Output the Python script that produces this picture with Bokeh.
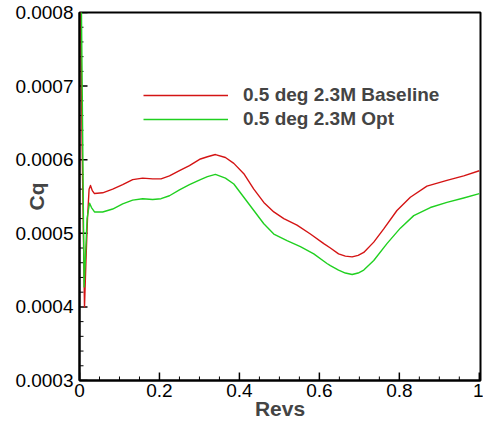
import math
from bokeh.plotting import figure
from bokeh.models import FixedTicker, Legend, LegendItem, Range1d, PrintfTickFormatter
from bokeh.embed import file_html
from bokeh.resources import INLINE

# ---- data ----
red_x = [0.002, 0.0065, 0.0125, 0.016, 0.02, 0.024, 0.0275, 0.032, 0.0375, 0.058, 0.083, 0.108,
         0.133, 0.158, 0.183, 0.204, 0.225, 0.25, 0.275, 0.3025, 0.32, 0.34, 0.365, 0.386, 0.411,
         0.436, 0.461, 0.486, 0.511, 0.544, 0.5775, 0.611, 0.6275, 0.648, 0.665, 0.682, 0.697,
         0.711, 0.736, 0.761, 0.794, 0.8275, 0.869, 0.919, 0.961, 1.0]
red_y = [0.00085, 0.00062, 0.000400, 0.00046, 0.00052, 0.00056, 0.000565, 0.000558, 0.000554,
         0.000555, 0.000560, 0.000566, 0.000573, 0.000575, 0.000574, 0.000574, 0.000578, 0.000585,
         0.000592, 0.000601, 0.000604, 0.000607, 0.000603, 0.000595, 0.000581, 0.000560, 0.000542,
         0.000529, 0.000520, 0.000511, 0.000499, 0.000486, 0.000480, 0.000472, 0.000469, 0.000468,
         0.000470, 0.000474, 0.000488, 0.000506, 0.000531, 0.000549, 0.000564, 0.000572, 0.000578,
         0.000585]

green_x = [0.004, 0.0085, 0.0115, 0.015, 0.019, 0.025, 0.03, 0.0375, 0.058, 0.083, 0.108, 0.133,
           0.158, 0.183, 0.204, 0.225, 0.25, 0.275, 0.3025, 0.32, 0.34, 0.365, 0.386, 0.411, 0.436,
           0.461, 0.486, 0.519, 0.5525, 0.586, 0.619, 0.6275, 0.648, 0.665, 0.682, 0.697, 0.711,
           0.736, 0.769, 0.8025, 0.836, 0.8775, 0.919, 0.961, 1.0]
green_y = [0.00085, 0.00060, 0.000427, 0.00047, 0.00052, 0.000541, 0.000535, 0.000529, 0.000529,
           0.000533, 0.000540, 0.000545, 0.000547, 0.000546, 0.000547, 0.000551, 0.000559, 0.000566,
           0.000573, 0.000577, 0.000580, 0.000575, 0.000567, 0.000549, 0.000531, 0.000513, 0.000499,
           0.000490, 0.000482, 0.000472, 0.000459, 0.000456, 0.000450, 0.000446, 0.000444, 0.000446,
           0.000450, 0.000463, 0.000486, 0.000507, 0.000524, 0.000535, 0.000542, 0.000548, 0.000554]

series_names = ["0.5 deg 2.3M Baseline", "0.5 deg 2.3M Opt"]
x_ticks = [0, 0.2, 0.4, 0.6, 0.8, 1]
x_tick_labels = ["0", "0.2", "0.4", "0.6", "0.8", "1"]
x_minor = [i * 0.05 for i in range(21)]
y_ticks = [0.0003, 0.0004, 0.0005, 0.0006, 0.0007, 0.0008]
y_minor = [0.0003 + i * 0.00002 for i in range(26)]

FONT = "Liberation Sans"
W, H = 483, 423
BL, BR, BT, BB = 79, 3, 12, 43
X0, X1 = 0, 1.003
Y0, Y1 = 0.0003, 0.0008

p = figure(width=W, height=H, output_backend="svg", toolbar_location=None,
           x_range=Range1d(X0, X1), y_range=Range1d(Y0, Y1),
           min_border_left=BL, min_border_right=BR, min_border_top=BT, min_border_bottom=BB)
p.xgrid.visible = False
p.ygrid.visible = False
p.background_fill_color = "white"
p.border_fill_color = "white"
p.outline_line_color = "black"
p.outline_line_width = 2

# inward tick marks, drawn at the tick values (lengths converted from pixels)
dx_per_px = (X1 - X0) / (W - BL - BR)
dy_per_px = (Y1 - Y0) / (H - BT - BB)
xmin_ = [t for t in x_minor if all(abs(t - m) > 1e-9 for m in x_ticks)]
ymin_ = [t for t in y_minor if all(abs(t - m) > 1e-12 for m in y_ticks)]
p.segment(x0=x_ticks, y0=[Y0] * len(x_ticks), x1=x_ticks,
          y1=[Y0 + 8 * dy_per_px] * len(x_ticks), line_color="black", line_width=1.5)
p.segment(x0=xmin_, y0=[Y0] * len(xmin_), x1=xmin_, y1=[Y0 + 4 * dy_per_px] * len(xmin_),
          line_color="black", line_width=1)
p.segment(x0=[X0] * len(y_ticks), y0=y_ticks, x1=[X0 + 8 * dx_per_px] * len(y_ticks),
          y1=y_ticks, line_color="black", line_width=1.5)
p.segment(x0=[X0] * len(ymin_), y0=ymin_, x1=[X0 + 4 * dx_per_px] * len(ymin_), y1=ymin_,
          line_color="black", line_width=1)

r1 = p.line(red_x, red_y, line_color="#d41414", line_width=1.4, line_join="round")
r2 = p.line(green_x, green_y, line_color="#20d020", line_width=1.4, line_join="round")

for ax in (p.xaxis[0], p.yaxis[0]):
    ax.axis_line_width = 2
    ax.axis_line_color = "black"
    ax.major_tick_in = 0
    ax.major_tick_out = 0
    ax.minor_tick_in = 0
    ax.minor_tick_out = 0
    ax.major_label_text_font = FONT
    ax.major_label_text_font_size = "19px"
    ax.major_label_text_color = "black"

p.xaxis.ticker = FixedTicker(ticks=x_ticks, minor_ticks=x_minor)
p.xaxis.major_label_overrides = dict(zip(x_ticks, x_tick_labels))
p.xaxis.major_label_standoff = 3
p.xaxis.axis_label = "Revs"
p.xaxis.axis_label_text_font = FONT
p.xaxis.axis_label_text_font_style = "bold"
p.xaxis.axis_label_text_font_size = "21px"
p.xaxis.axis_label_standoff = -3

p.yaxis.ticker = FixedTicker(ticks=y_ticks, minor_ticks=y_minor)
p.yaxis.formatter = PrintfTickFormatter(format="%.4f")
p.yaxis.major_label_standoff = 6
p.yaxis.axis_label = "Cq"
p.yaxis.axis_label_text_font = FONT
p.yaxis.axis_label_text_font_style = "bold"
p.yaxis.axis_label_text_font_size = "21px"
p.yaxis.axis_label_standoff = -36

legend = Legend(items=[LegendItem(label=series_names[0], renderers=[r1]),
                       LegendItem(label=series_names[1], renderers=[r2])],
                location=(64, 250), padding=0, margin=0, spacing=2,
                glyph_width=85, glyph_height=20, label_height=20, label_standoff=15,
                label_text_font=FONT, label_text_font_style="bold", label_text_font_size="19px",
                border_line_color=None, background_fill_alpha=0)
p.add_layout(legend)

open("out.html", "w").write(file_html(p, INLINE))
